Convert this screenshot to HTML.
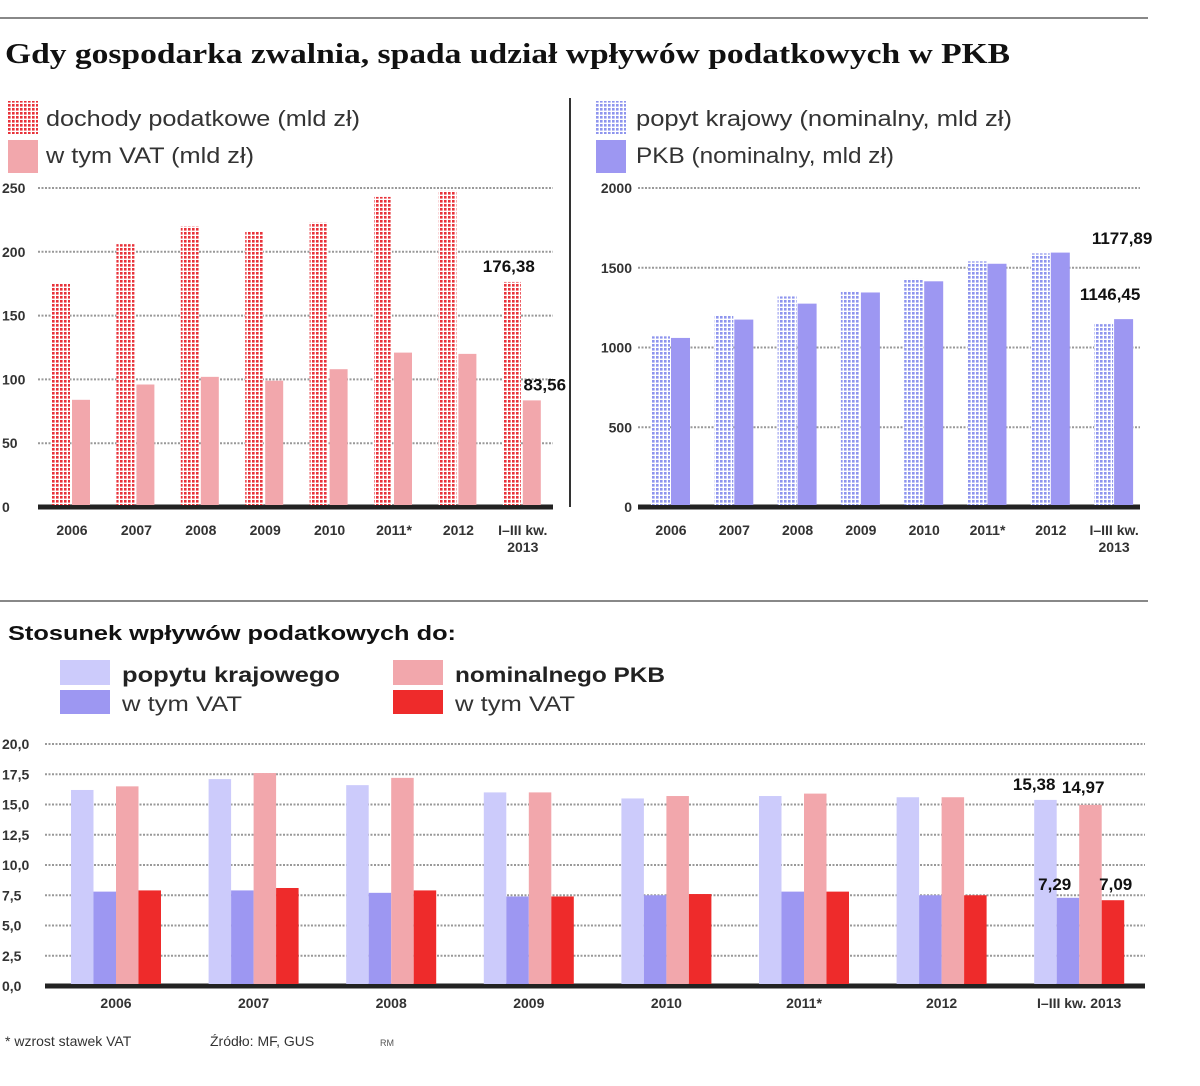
<!DOCTYPE html>
<html><head><meta charset="utf-8"><style>
body{margin:0;background:#fff;width:1200px;height:1081px;overflow:hidden;font-family:"Liberation Sans",sans-serif}
svg text{font-family:"Liberation Sans",sans-serif}
</style></head><body>
<svg width="1200" height="1081" xmlns="http://www.w3.org/2000/svg" id="root">
<defs>
<pattern id="pr" width="4" height="4" patternUnits="userSpaceOnUse"><rect width="4" height="4" fill="#fff"/><rect width="2.6" height="2.6" fill="#e8323a"/></pattern>
<pattern id="pb" width="4" height="4" patternUnits="userSpaceOnUse"><rect width="4" height="4" fill="#fff"/><rect width="2.6" height="2.6" fill="#8e95ee"/></pattern>
</defs>
<line x1="0" y1="18" x2="1148" y2="18" stroke="#888" stroke-width="2"/>
<text x="5" y="63" font-size="28" font-weight="bold" textLength="1005" lengthAdjust="spacingAndGlyphs" style="font-family:'Liberation Serif',serif" fill="#111">Gdy gospodarka zwalnia, spada udział wpływów podatkowych w PKB</text>
<line x1="570" y1="98" x2="570" y2="507" stroke="#333" stroke-width="2"/>
<g>
<rect x="8" y="101" width="30" height="33" fill="url(#pr)"/><text x="46" y="126" font-size="22" fill="#333" textLength="314" lengthAdjust="spacingAndGlyphs">dochody podatkowe (mld zł)</text>
<rect x="8" y="140" width="30" height="33" fill="#f2a7ac"/><text x="46" y="163" font-size="22" fill="#333" textLength="208" lengthAdjust="spacingAndGlyphs">w tym VAT (mld zł)</text>
</g>
<g>
<rect x="596" y="101" width="30" height="33" fill="url(#pb)"/><text x="636" y="126" font-size="22" fill="#333" textLength="376" lengthAdjust="spacingAndGlyphs">popyt krajowy (nominalny, mld zł)</text>
<rect x="596" y="140" width="30" height="33" fill="#9d97f2"/><text x="636" y="163" font-size="22" fill="#333" textLength="258" lengthAdjust="spacingAndGlyphs">PKB (nominalny, mld zł)</text>
</g>
<line x1="0" y1="601" x2="1148" y2="601" stroke="#888" stroke-width="2"/>
<text x="8" y="640" font-size="20" font-weight="bold" fill="#111" textLength="448" lengthAdjust="spacingAndGlyphs">Stosunek wpływów podatkowych do:</text>
<g>
<rect x="60" y="660" width="50" height="25" fill="#cccbfb"/><text x="122" y="682" font-size="21" font-weight="bold" fill="#222" textLength="218" lengthAdjust="spacingAndGlyphs">popytu krajowego</text>
<rect x="60" y="690" width="50" height="24" fill="#9d97f2"/><text x="122" y="711" font-size="21" fill="#333" textLength="120" lengthAdjust="spacingAndGlyphs">w tym VAT</text>
<rect x="393" y="660" width="50" height="25" fill="#f2a7ac"/><text x="455" y="682" font-size="21" font-weight="bold" fill="#222" textLength="210" lengthAdjust="spacingAndGlyphs">nominalnego PKB</text>
<rect x="393" y="690" width="50" height="24" fill="#ee2b2b"/><text x="455" y="711" font-size="21" fill="#333" textLength="120" lengthAdjust="spacingAndGlyphs">w tym VAT</text>
</g>
<g id="c1"></g>
<g id="c2"></g>
<g id="c3"></g>
<text x="5" y="1046" font-size="14" fill="#333">* wzrost stawek VAT</text>
<text x="210" y="1046" font-size="14" fill="#333">Źródło: MF, GUS</text>
<text x="380" y="1046" font-size="9" fill="#555">RM</text>
</svg>
<script>
const cats1=["2006","2007","2008","2009","2010","2011*","2012","I–III kw.|2013"];
const taxRev=[175,206,220,216,223,243,248,176.38];
const vatRev=[84,96,102,99,108,121,120,83.56];
const ticks1=[0,50,100,150,200,250];
const domDemand=[1070,1200,1320,1350,1430,1540,1590,1146.45];
const gdp=[1060,1175,1275,1345,1415,1525,1595,1177.89];
const ticks2=[0,500,1000,1500,2000];
const cats3=["2006","2007","2008","2009","2010","2011*","2012","I–III kw. 2013"];
const ratioDemand=[16.2,17.1,16.6,16.0,15.5,15.7,15.6,15.38];
const ratioDemandVat=[7.8,7.9,7.7,7.4,7.5,7.8,7.5,7.29];
const ratioGdp=[16.5,17.6,17.2,16.0,15.7,15.9,15.6,14.97];
const ratioGdpVat=[7.9,8.1,7.9,7.4,7.6,7.8,7.5,7.09];
const ticks3=[0,2.5,5,7.5,10,12.5,15,17.5,20];
const NS="http://www.w3.org/2000/svg";
function mk(p,t,a){const e=document.createElementNS(NS,t);for(const k in a)e.setAttribute(k,a[k]);p.appendChild(e);return e;}
function fmt(v,d){return v.toFixed(d).replace('.',',');}
function chart(g,o){
  const y=v=>o.y0-(v/o.max)*(o.y0-o.yTop);
  o.ticks.forEach(t=>{
    const l=mk(g,'line',{x1:o.gx1,x2:o.gx2,y1:y(t),y2:y(t),stroke:'#999','stroke-width':2,'stroke-dasharray':'2,1.5'});
    
    
    const tx=mk(g,'text',{x:o.lx,y:y(t)+5,'font-size':14,'font-weight':'bold',fill:'#333','text-anchor':o.anchor||'start'});
    tx.textContent=fmt(t,o.dec);
    
    
  });
  const ax=mk(g,'line',{x1:o.gx1,x2:o.gx2,y1:o.y0,y2:o.y0,stroke:'#222','stroke-width':5});
  
  
  o.cats.forEach((c,i)=>{
    const gx=o.x0+i*o.step;
    o.series.forEach((s,j)=>{
      const r=mk(g,'rect',{x:gx+j*o.bw,y:y(s.v[i]),width:o.bw-o.gap,height:o.y0-2-y(s.v[i]),fill:s.fill});
      
      
    });
    const lines=c.split('|');
    lines.forEach((ln,k)=>{
      const t=mk(g,'text',{x:gx+o.series.length*o.bw/2,y:o.y0+o.ly+k*17,'font-size':14,'font-weight':'bold',fill:'#333','text-anchor':'middle'});
      t.textContent=ln;
      
      
    });
  });
  const n=o.cats.length-1,gx=o.x0+n*o.step;
  o.series.forEach((s,j)=>{
    if(!s.lab)return;
    const t=mk(g,'text',{x:gx+j*o.bw+s.lab[0],y:y(s.v[n])+s.lab[1],'font-size':17,'font-weight':'bold',fill:'#111','text-anchor':'middle'});
    t.textContent=fmt(s.v[n],2);
    
    
  });
}
chart(document.getElementById('c1'),{y0:507,yTop:188,max:250,ticks:ticks1,gx1:38,gx2:553,lx:2,dec:0,cats:cats1,x0:52,step:64.4,bw:20,gap:2,ly:28,
  series:[{n:'tax',v:taxRev,fill:'url(#pr)',lab:[6,-10]},{n:'vat',v:vatRev,fill:'#f2a7ac',lab:[22,-10]}]});
chart(document.getElementById('c2'),{y0:507,yTop:188,max:2000,ticks:ticks2,gx1:638,gx2:1140,lx:632,anchor:'end',dec:0,cats:cats1,x0:651,step:63.3,bw:20,gap:1,ly:28,
  series:[{n:'demand',v:domDemand,fill:'url(#pb)',lab:[16,-24]},{n:'gdp',v:gdp,fill:'#9d97f2',lab:[8,-75]}]});
chart(document.getElementById('c3'),{y0:986,yTop:744,max:20,ticks:ticks3,gx1:45,gx2:1145,lx:2,dec:1,cats:cats3,x0:71,step:137.6,bw:22.5,gap:0,ly:22,
  series:[{n:'demand',v:ratioDemand,fill:'#cccbfb',lab:[0,-10]},{n:'demand-vat',v:ratioDemandVat,fill:'#9d97f2',lab:[-2,-8]},{n:'gdp',v:ratioGdp,fill:'#f2a7ac',lab:[4,-12]},{n:'gdp-vat',v:ratioGdpVat,fill:'#ee2b2b',lab:[14,-10]}]});
</script>
</body></html>
